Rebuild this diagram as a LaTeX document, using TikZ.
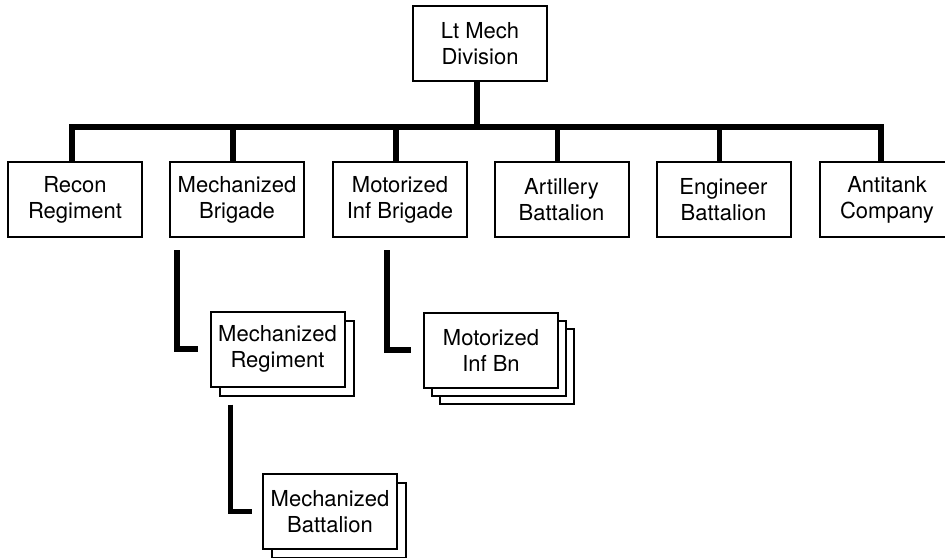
\documentclass[tikz,border=0pt]{standalone}
\usepackage{fontspec}
\setmainfont{TeX Gyre Heros}

\begin{document}
\begin{tikzpicture}[x=1pt,y=-1pt,
        unit/.style={draw,fill=white,line width=2pt,minimum width=134pt,minimum height=75pt,
            inner sep=0pt,align=center,font=\fontsize{22}{26}\selectfont},
        link/.style={line width=5.5pt}]
        \useasboundingbox (0,0) rectangle (945,557);

        % division and its units
        \node[unit] (div) at (480,43.5) {Lt Mech\\Division};
        \node[unit] (rec) at (75,199.5) {Recon\\Regiment};
        \node[unit] (mbde) at (237,199.5) {Mechanized\\Brigade};
        \node[unit] (mibde) at (400,199.5) {Motorized\\Inf Brigade};
        \node[unit] (art) at (561.5,199.5) {Artillery\\Battalion};
        \node[unit] (eng) at (723.5,199.5) {Engineer\\Battalion};
        \node[unit] (at) at (887,199.5) {Antitank\\Company};

        % stacked subunits
        \node[unit] (mreg2) at (286.5,358) {};
        \node[unit] (mreg) at (277.5,349) {Mechanized\\Regiment};
        \node[unit] (mibn3) at (507,366) {};
        \node[unit] (mibn2) at (499,358) {};
        \node[unit] (mibn) at (491,350) {Motorized\\Inf Bn};
        \node[unit] (mbn2) at (339,520.5) {};
        \node[unit] (mbn) at (330,511.5) {Mechanized\\Battalion};

        \coordinate (bar) at (0,127);
        \draw[link] ([xshift=-3pt]rec.north) -- ([xshift=-3pt]rec.north |- bar)
            -- ([xshift=-6pt]at.north |- bar) -- ([xshift=-6pt]at.north);
        \foreach \u in {mbde,mibde,art,eng}
            \draw[link] ([xshift=-4pt]\u.north) -- ([xshift=-4pt]\u.north |- bar);
        \draw[link] ([xshift=-3pt]div.south) -- ([xshift=-3pt]div.south |- bar);

        \coordinate (mbdefoot) at ([xshift=8pt,yshift=-12pt]mbde.south west);
        \coordinate (mibdefoot) at ([xshift=55pt,yshift=-12pt]mibde.south west);
        \coordinate (mregfoot) at ([xshift=21pt,yshift=-17pt]mreg.south west);
        \draw[link] (mbdefoot) |- ([xshift=-12pt]mreg.west);
        \draw[link] (mibdefoot) |- ([xshift=-12pt]mibn.west);
        \draw[link] (mregfoot) |- ([xshift=-10pt]mbn.west);
    \end{tikzpicture}
\end{document}
